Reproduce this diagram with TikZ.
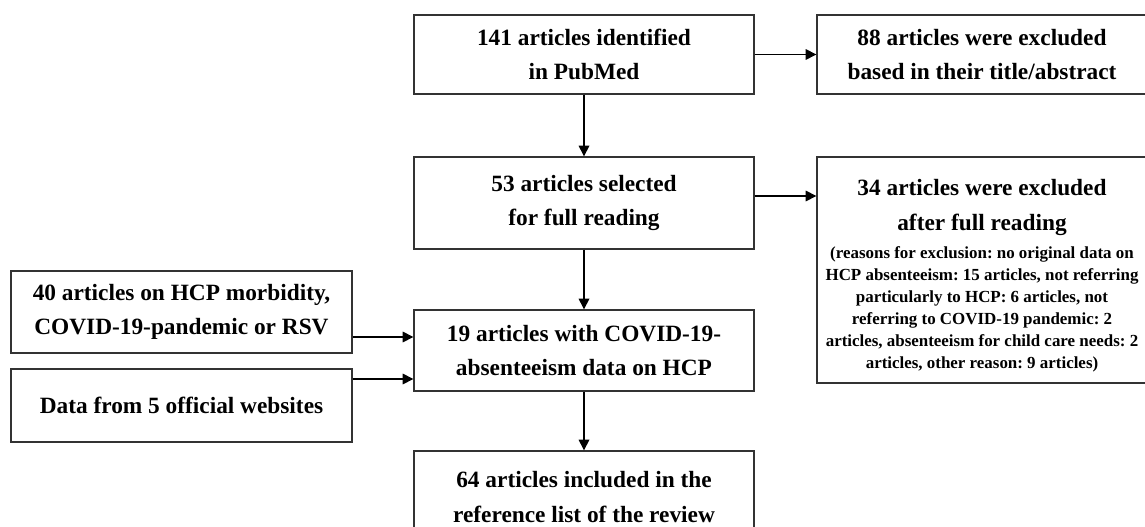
\documentclass[tikz,border=0pt]{standalone}
\usepackage{fontspec}
\setmainfont{Liberation Serif}
\frenchspacing
\usetikzlibrary{arrows.meta}
\tikzset{
  box/.style={draw=black!80, line width=1pt, align=flush center, inner sep=0pt,
    font=\bfseries\fontsize{17.5}{26}\selectfont},
  arr/.style={-{Triangle[length=8pt,width=8pt]}, line width=0.9pt},
}
\begin{document}
\begin{tikzpicture}[x=0.75pt,y=-0.75pt]
\def\PX{0.75pt}
\useasboundingbox (0,0) rectangle (1145,527);
\node[box, minimum width=340*\PX, minimum height=79*\PX] (ident) at (584,54.5) {141 articles identified\\in PubMed};
\node[box, minimum width=330*\PX, minimum height=79*\PX] (excl1) at (982,54.5) {88 articles were excluded\\based in their title/abstract};
\node[box, minimum width=340*\PX, minimum height=92*\PX] (select) at (584,203) {53 articles selected\\for full reading};
\node[box, text width=330*\PX, minimum height=226*\PX] (excl2) at (982,270) {\rule{0pt}{21pt}34 articles were excluded\\after full reading\par\vspace{5pt}
  {\fontsize{12.7}{16.5}\selectfont (reasons for exclusion: no original data on\\HCP absenteeism: 15 articles, not referring\\particularly to HCP: 6 articles, not\\referring to COVID-19 pandemic: 2\\articles, absenteeism for child care needs: 2\\articles, other reason: 9 articles)\par}};
\node[box, minimum width=341*\PX, minimum height=82*\PX] (other) at (181.5,312) {40 articles on HCP morbidity,\\COVID-19-pandemic or RSV};
\node[box, minimum width=341*\PX, minimum height=73*\PX] (data) at (181.5,405.5) {Data from 5 official websites};
\node[box, minimum width=340*\PX, minimum height=81*\PX] (covid) at (584,350.5) {19 articles with COVID-19-\\absenteeism data on HCP};
\node[box, minimum width=340*\PX, minimum height=92*\PX] (incl) at (584,497) {64 articles included in the\\reference list of the review};
\draw[arr] (ident)--(excl1);
\draw[arr] (ident)--(select);
\draw[arr] (select.east |- 0,196)--(excl2.west |- 0,196);
\draw[arr] (select)--(covid);
\draw[arr] (other.east |- 0,337)--(covid.west |- 0,337);
\draw[arr] (data.east |- 0,379)--(covid.west |- 0,379);
\draw[arr] (covid)--(incl);
\end{tikzpicture}
\end{document}
